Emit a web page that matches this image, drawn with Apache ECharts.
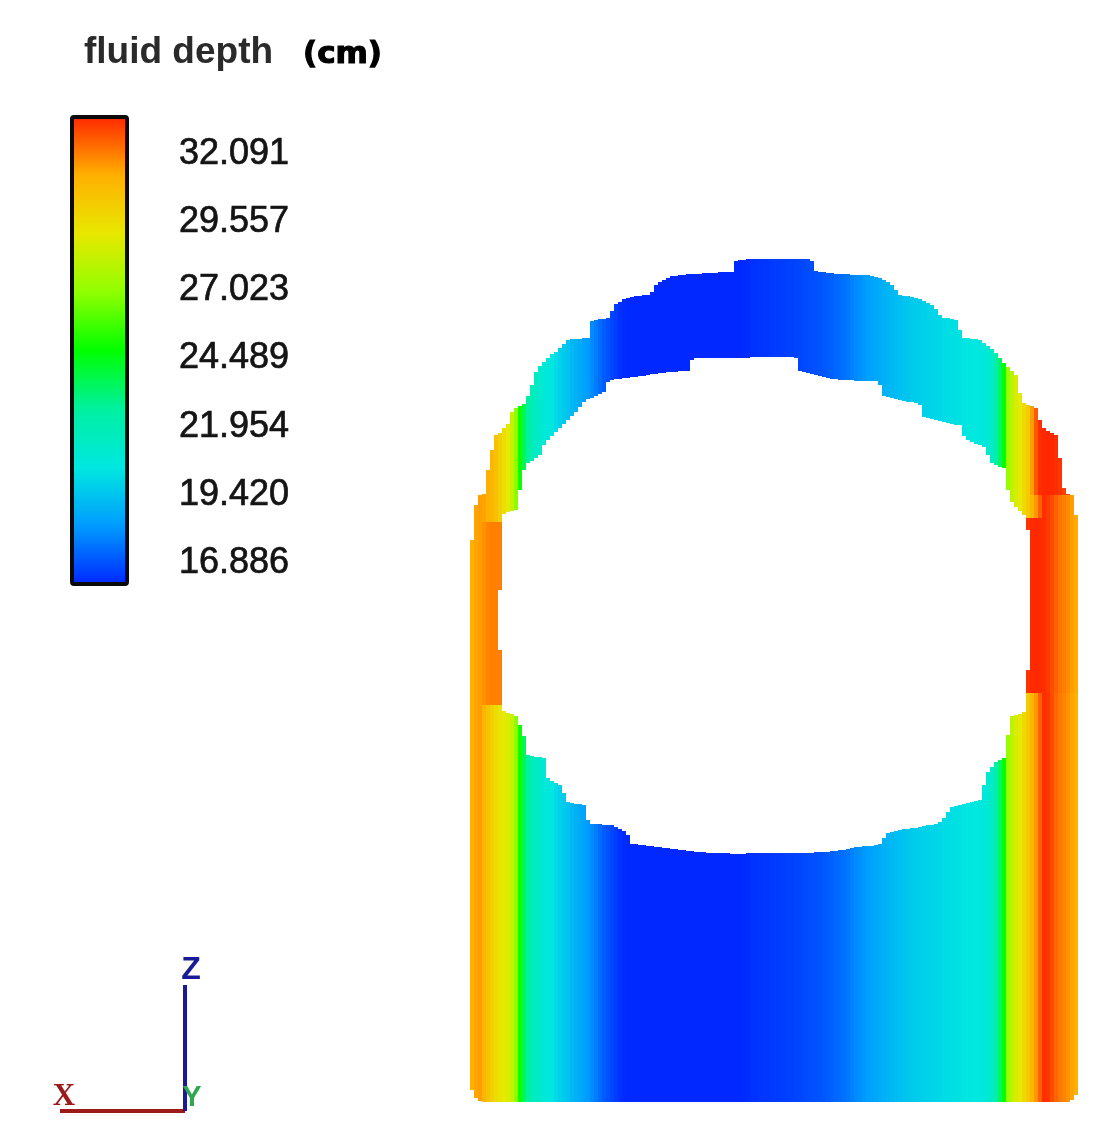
<!DOCTYPE html>
<html>
<head>
<meta charset="utf-8">
<style>html,body{margin:0;padding:0;background:#fff}#c{width:1097px;height:1133px}#c canvas{filter:blur(0.6px)}</style>
<script src="https://cdn.jsdelivr.net/npm/echarts@6/dist/echarts.min.js"></script>
</head>
<body>
<div id="c"></div>
<script>
// Value range and ticks of the colour bar
const depthMin = 16.03;
const depthMax = 33.39;
const tickValues = [32.091, 29.557, 27.023, 24.489, 21.954, 19.420, 16.886];
const rampColors = ['#0028ff','#009cff','#00e8e0','#00f0a0','#00ff00','#90ff00','#e8e800','#ffb000','#ff2800'];

// Field columns. Each array has one entry per column.
const firstColumn = 470;
const columnStep = 4;
const outerTop = [
540,505,495,494,470,450,435,433,428,424,
412,408,406,404,396,385,372,366,362,358,
354,352,348,344,340,339,339,339,338,338,
321,320,319,319,318,311,304,302,299,298,
297,296,296,295,295,292,285,282,280,278,
276,276,275,275,274,274,274,274,273,273,
273,273,272,272,272,272,261,260,260,259,
259,259,259,259,259,259,259,259,259,259,
259,259,259,259,259,261,271,272,272,273,
273,274,274,274,274,275,275,275,275,275,
276,277,278,280,282,285,290,295,296,296,
297,298,299,301,303,305,309,315,318,318,
319,320,330,338,338,339,339,340,343,346,
349,353,358,363,367,371,375,393,403,405,
406,408,420,428,431,433,435,458,488,494,
495,515];
const holeTop = [
null,null,null,null,null,null,null,590,514,512,
511,510,490,470,463,461,458,455,445,440,
436,432,428,424,420,416,412,407,402,399,
398,396,394,392,382,380,379,379,378,378,
377,377,376,376,375,374,374,373,373,372,
372,372,371,371,371,360,358,358,358,358,
358,358,358,358,358,358,358,358,358,358,
357,357,357,357,357,357,357,357,357,357,
357,358,371,372,373,374,375,376,377,378,
379,379,380,380,380,380,381,381,381,381,
381,381,385,396,397,398,399,400,401,402,
402,403,405,417,418,419,420,421,422,423,
424,425,425,436,440,442,444,445,447,455,
463,465,467,468,490,502,507,511,515,530,
null,null,null,null,null,null,null,null,null,null,
null,null];
const holeBottom = [
null,null,null,null,null,null,null,650,711,713,
714,716,725,736,755,756,757,757,758,778,
781,783,785,793,802,803,804,804,805,820,
824,824,824,825,825,825,827,829,831,835,
844,844,845,845,846,846,847,847,848,848,
849,849,850,850,851,851,852,852,852,853,
853,853,853,853,853,854,854,854,854,853,
853,853,853,853,853,853,853,853,853,853,
853,853,853,853,853,853,852,852,852,852,
851,851,850,850,849,848,847,847,846,846,
846,845,844,838,833,832,831,830,829,829,
828,828,827,826,825,825,824,822,818,812,
807,806,805,804,803,802,801,800,785,772,
767,762,760,758,735,716,715,714,712,670,
null,null,null,null,null,null,null,null,null,null,
null,null];
const outerBottom = [
1090,1098,1101,1102,1102,1102,1102,1102,1102,1102,
1102,1102,1102,1102,1102,1102,1102,1102,1102,1102,
1102,1102,1102,1102,1102,1102,1102,1102,1102,1102,
1102,1102,1102,1102,1102,1102,1102,1102,1102,1102,
1102,1102,1102,1102,1102,1102,1102,1102,1102,1102,
1102,1102,1102,1102,1102,1102,1102,1102,1102,1102,
1102,1102,1102,1102,1102,1102,1102,1102,1102,1102,
1102,1102,1102,1102,1102,1102,1102,1102,1102,1102,
1102,1102,1102,1102,1102,1102,1102,1102,1102,1102,
1102,1102,1102,1102,1102,1102,1102,1102,1102,1102,
1102,1102,1102,1102,1102,1102,1102,1102,1102,1102,
1102,1102,1102,1102,1102,1102,1102,1102,1102,1102,
1102,1102,1102,1102,1102,1102,1102,1102,1102,1102,
1102,1102,1102,1102,1102,1102,1102,1102,1102,1102,
1102,1102,1102,1102,1102,1102,1102,1102,1102,1102,
1100,1095];
const depthBase = [
31.2,31.4,31.5,31.0,30.5,30.0,29.5,29.2,29.0,28.7,
28.2,26.8,24.9,23.6,22.5,21.8,21.3,21.0,20.7,20.5,
20.3,20.0,19.7,19.5,19.3,19.0,18.8,18.6,18.4,18.2,
17.9,17.6,17.3,17.0,16.8,16.6,16.4,16.2,16.1,16.05,
16.03,16.03,16.03,16.03,16.03,16.03,16.03,16.03,16.03,16.03,
16.03,16.03,16.03,16.03,16.03,16.03,16.03,16.03,16.03,16.03,
16.03,16.03,16.03,16.03,16.03,16.03,16.03,16.05,16.08,16.1,
16.2,16.2,16.25,16.3,16.3,16.35,16.4,16.4,16.45,16.5,
16.5,16.55,16.6,16.65,16.7,16.75,16.8,16.85,16.9,17.0,
17.1,17.2,17.3,17.4,17.5,17.7,17.9,18.0,18.15,18.3,
18.4,18.5,18.65,18.8,18.9,19.0,19.1,19.2,19.3,19.4,
19.5,19.55,19.6,19.7,19.75,19.8,19.85,19.9,20.0,20.05,
20.1,20.15,20.2,20.25,20.3,20.35,20.4,20.45,20.5,20.8,
21.3,22.2,23.4,24.7,27.0,28.0,28.6,29.0,29.6,30.2,
31.0,31.6,32.5,33.3,33.2,32.8,32.4,32.1,31.9,31.7,
31.4,31.2];
// Side zones where the field differs from the base profile
const leftCapDepth = [31.2,31.4,31.5,31.4,31.2,31.0,30.6,30.0,29.4,29.0];
const leftShoulderDepth = [31.2,31.4,31.5,31.7,31.9,32.0,32.0,32.0];
const rightShoulderDepth = [33.2,33.35,33.39,33.35,33.3,33.1,32.8,32.5,32.2,32.0,31.8,31.5,31.3];
const rightCapDepth = [31.5,32.6,33.3,33.39,33.39,33.39,33.3,33.2,33.0,32.8];
const rightShoulderFirst = 139;
const rightCapFirst = 140;

// Orientation marker
const xAxisMarker = [[60,1111],[185,1111]];
const zAxisMarker = [[185,985],[185,1111]];

function depthAt(i, y) {
  if (i < leftCapDepth.length && y < 522) return leftCapDepth[i];
  if (i < leftShoulderDepth.length && y > 522 && y < 705) return leftShoulderDepth[i];
  const s = i - rightShoulderFirst;
  if (s >= 0 && s < rightShoulderDepth.length && y < 693 && y > (i >= 143 ? 495 : 518)) return rightShoulderDepth[s];
  const c = i - rightCapFirst;
  if (c >= 0 && c < rightCapDepth.length && y < 495) return rightCapDepth[c];
  return depthBase[i];
}
const cells = [];
outerTop.forEach(function (top, i) {
  const bottom = outerBottom[i];
  const hasHole = holeTop[i] !== null;
  const cuts = [top, bottom, 495, 518, 522, 693, 705];
  if (hasHole) cuts.push(holeTop[i], holeBottom[i]);
  const ys = cuts.filter(function (v) { return v >= top && v <= bottom; }).sort(function (a, b) { return a - b; });
  for (let k = 0; k < ys.length - 1; k++) {
    const a = ys[k], b = ys[k + 1], mid = (a + b) / 2;
    if (b <= a) continue;
    if (hasHole && mid > holeTop[i] && mid < holeBottom[i]) continue;
    const x0 = firstColumn + i * columnStep;
    cells.push([x0, x0 + columnStep, a, b, depthAt(i, mid)]);
  }
});

const chart = echarts.init(document.getElementById('c'), null, {renderer: 'canvas'});
chart.setOption({
  animation: false,
  backgroundColor: '#ffffff',
  grid: [
    {left: 0, top: 0, width: 1097, height: 1133, containLabel: false},
    {left: 72, top: 119, width: 55, height: 467, containLabel: false}
  ],
  xAxis: [
    {type: 'value', gridIndex: 0, min: 0, max: 1097, show: false},
    {type: 'value', gridIndex: 1, min: 0, max: 1, show: false}
  ],
  yAxis: [
    {type: 'value', gridIndex: 0, min: 0, max: 1133, inverse: true, show: false},
    {
      type: 'value', gridIndex: 1, position: 'right', min: depthMin, max: depthMax,
      axisLine: {show: false}, axisTick: {show: false}, splitLine: {show: false},
      axisLabel: {
        show: true, margin: 52, fontFamily: 'Liberation Sans', fontSize: 36, color: '#141414',
        textBorderColor: '#141414', textBorderWidth: 0.7,
        customValues: tickValues,
        formatter: function (v) { return v.toFixed(3); }
      }
    }
  ],
  visualMap: {
    type: 'continuous', seriesIndex: 0, dimension: 4, min: depthMin, max: depthMax,
    orient: 'vertical', left: 72, top: 117, padding: 0, itemWidth: 55, itemHeight: 467,
    calculable: false, hoverLink: false, text: null, showLabel: false,
    inRange: {color: rampColors}, textStyle: {color: 'transparent', fontSize: 1}
  },
  series: [
    {
      type: 'custom', name: 'fluid depth', xAxisIndex: 0, yAxisIndex: 0, clip: false,
      silent: true, progressive: 0,
      dimensions: ['x0', 'x1', 'y0', 'y1', 'depth'],
      encode: {x: [0, 1], y: [2, 3]},
      data: cells,
      renderItem: function (params, api) {
        const p0 = api.coord([api.value(0), api.value(2)]);
        const p1 = api.coord([api.value(1), api.value(3)]);
        return {
          type: 'rect',
          shape: {x: p0[0], y: p0[1], width: p1[0] - p0[0], height: p1[1] - p0[1]},
          style: {fill: api.visual('color'), stroke: null}
        };
      }
    },
    {
      type: 'line', name: 'X', xAxisIndex: 0, yAxisIndex: 0, data: xAxisMarker, symbol: 'none', silent: true,
      lineStyle: {color: '#9c1a1a', width: 4}
    },
    {
      type: 'line', name: 'Z', xAxisIndex: 0, yAxisIndex: 0, data: zAxisMarker, symbol: 'none', silent: true,
      lineStyle: {color: '#1a1a96', width: 4}
    }
  ],
  graphic: [
    {type: 'rect', silent: true, z: 100, shape: {x: 72, y: 117, width: 55, height: 467, r: 2},
      style: {fill: null, stroke: '#0a0a0a', lineWidth: 4}},
    {type: 'text', silent: true, z: 100, x: 84, y: 53, style: {text: 'fluid depth', fontFamily: 'Liberation Sans', fontWeight: 'bold', fontSize: 37, fill: '#2a2a2a', textAlign: 'left', textVerticalAlign: 'middle'}},
    {type: 'text', silent: true, z: 100, x: 303, y: 55, style: {text: '(cm)', fontFamily: 'DejaVu Sans', fontWeight: 'bold', fontSize: 31, fill: '#000', stroke: '#000', lineWidth: 1.2, textAlign: 'left', textVerticalAlign: 'middle'}},
    {type: 'text', silent: true, z: 100, x: 64, y: 1097, style: {text: 'X', fontFamily: 'Liberation Serif', fontWeight: 'bold', fontSize: 31, fill: '#9c1a1a', textAlign: 'center', textVerticalAlign: 'middle'}},
    {type: 'text', silent: true, z: 100, x: 192, y: 1098, style: {text: 'Y', fontFamily: 'Liberation Sans', fontWeight: 'bold', fontSize: 29, fill: '#2fa84f', textAlign: 'center', textVerticalAlign: 'middle'}},
    {type: 'text', silent: true, z: 100, x: 191, y: 970, style: {text: 'Z', fontFamily: 'Liberation Sans', fontWeight: 'bold', fontSize: 32, fill: '#1a1a96', textAlign: 'center', textVerticalAlign: 'middle'}}
  ]
});
</script>
</body>
</html>
